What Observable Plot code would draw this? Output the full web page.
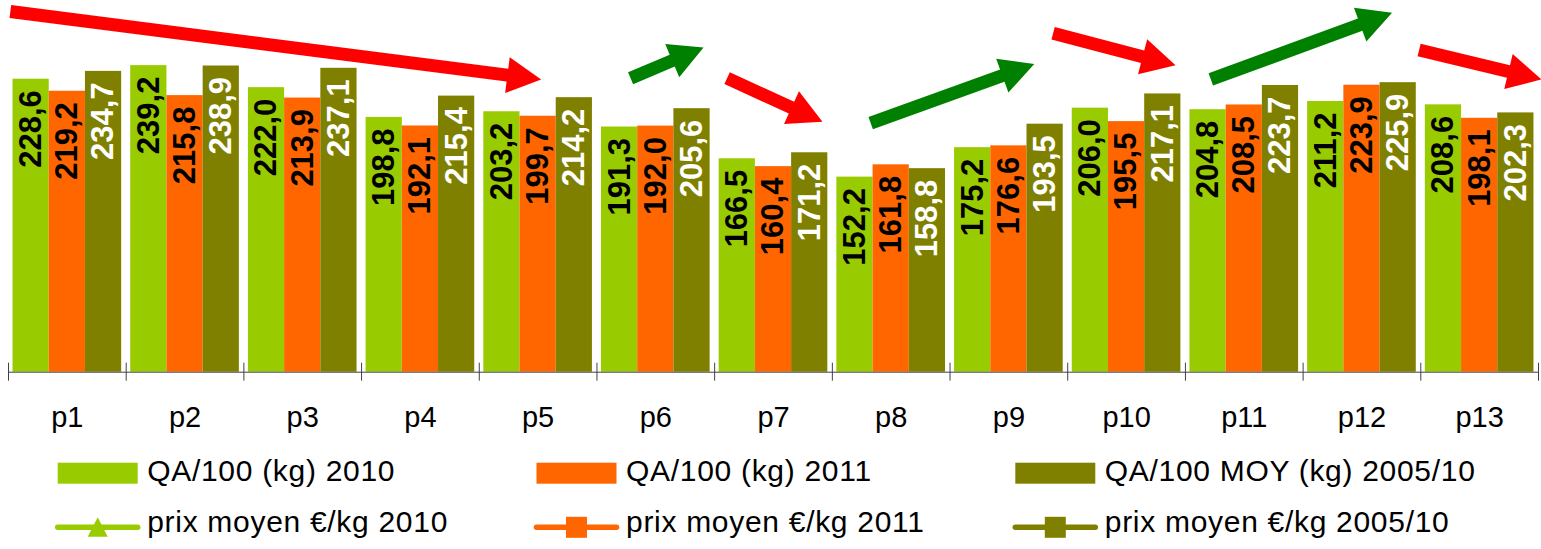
<!DOCTYPE html>
<html>
<head>
<meta charset="utf-8">
<script src="https://cdn.jsdelivr.net/npm/d3@7"></script>
<script src="https://cdn.jsdelivr.net/npm/@observablehq/plot@0.6"></script>
<style>
  html, body { margin: 0; padding: 0; background: white; }
  #chart { position: relative; width: 1541px; height: 549px; overflow: hidden; font-family: "Liberation Sans", Arial, sans-serif; }
  #chart svg { position: absolute; left: 0; }
</style>
</head>
<body>
<div id="chart"></div>
<script>
// ---- data ----
const periods = ["p1","p2","p3","p4","p5","p6","p7","p8","p9","p10","p11","p12","p13"];
const seriesNames = ["QA/100 (kg) 2010", "QA/100 (kg) 2011", "QA/100 MOY (kg) 2005/10"];
const qa2010 = [228.6, 239.2, 222.0, 198.8, 203.2, 191.3, 166.5, 152.2, 175.2, 206.0, 204.8, 211.2, 208.6];
const qa2011 = [219.2, 215.8, 213.9, 192.1, 199.7, 192.0, 160.4, 161.8, 176.6, 195.5, 208.5, 223.9, 198.1];
const qaMoy  = [234.7, 238.9, 237.1, 215.4, 214.2, 205.6, 171.2, 158.8, 193.5, 217.1, 223.7, 225.9, 202.3];
const lineNames = ["prix moyen €/kg 2010", "prix moyen €/kg 2011", "prix moyen €/kg 2005/10"];
const seriesColors = ["#99CC00", "#FF6600", "#808000"];
const labelColors = ["black", "black", "white"];
const lineMarkers = ["triangle", "square", "square"];

// trend arrows: start/end in period units (0..13) and in value units
const arrowStart      = [0.02, 5.29, 6.11, 7.33, 8.88, 10.22, 11.99];
const arrowStartLevel = [281,  229,  229,  194,  264,  228,   251];
const arrowEnd        = [4.53, 5.91, 6.92, 8.72, 9.92, 11.76, 13.03];
const arrowEndLevel   = [228,  253,  195,  240,  239,  280,   228];
const arrowColors = ["#FF0000", "#008000", "#FF0000", "#008000", "#FF0000", "#008000", "#FF0000"];

const allSeries = [qa2010, qa2011, qaMoy];
const rows = [];
periods.forEach((p, i) => allSeries.forEach((s, k) => rows.push({period: p, series: seriesNames[k], value: s[i]})));
const fmt = v => v.toFixed(1).replace(".", ",");

const W = 1541, H = 440, baseY = 371.7;
const FONT = "Liberation Sans, Arial, sans-serif";
const common = {
  width: W, height: H,
  marginLeft: 8, marginRight: 3, marginTop: 0, marginBottom: H - baseY,
  style: {background: "transparent", overflow: "visible", fontFamily: FONT},
};
const yScale = {domain: [0, 290], axis: null};

const chart = document.getElementById("chart");

// ---- bars ----
const bars = Plot.plot({
  ...common,
  fx: {domain: periods, padding: 0, axis: null, round: false, label: null},
  x: {domain: seriesNames, paddingInner: 0, paddingOuter: 0.125, axis: null, round: false, label: null},
  y: yScale,
  color: {domain: seriesNames, range: seriesColors},
  marks: [
    Plot.barY(rows, {fx: "period", x: "series", y: "value", fill: "series"}),
    ...seriesNames.map((name, k) => Plot.text(rows.filter(d => d.series === name), {
      fx: "period", x: "series", y: "value", text: d => fmt(d.value),
      rotate: -90, textAnchor: "end", dy: 11, fill: labelColors[k],
      fontWeight: "bold", fontSize: 31, fontFamily: FONT
    }))
  ]
});
bars.style.top = "0px";
chart.appendChild(bars);

// ---- overlay: axis, ticks, period labels, arrows ----
function arrowsMark(index, scales) {
  const {x, y} = scales;
  const g = d3.create("svg:g");
  arrowStart.forEach((_, i) => {
    const x1 = x(arrowStart[i]), y1 = y(arrowStartLevel[i]);
    const x2 = x(arrowEnd[i]), y2 = y(arrowEndLevel[i]);
    const dx = x2 - x1, dy = y2 - y1, len = Math.hypot(dx, dy);
    const ux = dx / len, uy = dy / len, nx = -uy, ny = ux;
    const L = 34, HW = 18, w = 6.5;
    const bx = x2 - ux * L, by = y2 - uy * L;
    const pts = [
      [x1 + nx * w, y1 + ny * w], [bx + nx * w, by + ny * w], [bx + nx * HW, by + ny * HW],
      [x2, y2], [bx - nx * HW, by - ny * HW], [bx - nx * w, by - ny * w], [x1 - nx * w, y1 - ny * w]
    ];
    g.append("polygon").attr("points", pts.map(p => p.join(",")).join(" ")).attr("fill", arrowColors[i]);
  });
  return g.node();
}

const overlay = Plot.plot({
  ...common,
  x: {domain: [0, periods.length], axis: null},
  y: yScale,
  marks: [
    Plot.ruleY([0], {x1: 0, x2: periods.length, stroke: "#404040", strokeWidth: 1}),
    Plot.ruleX(d3.range(periods.length + 1), {x: d => d, y1: -7, y2: 7, stroke: "#404040", strokeWidth: 1}),
    Plot.text(periods, {x: (d, i) => i + 0.5, y: 0, dy: 46, text: d => d, fontSize: 29, fill: "black",
      fontFamily: FONT}),
    arrowsMark
  ]
});
overlay.style.top = "0px";
chart.appendChild(overlay);

// ---- legend ----
const legend = d3.create("svg").attr("width", W).attr("height", 549 - H).style("top", H + "px")
  .style("position", "absolute").style("left", "0px");
const colStep = 478.8, col0 = 57.7;
seriesNames.forEach((name, k) => {
  const x0 = col0 + k * colStep;
  legend.append("rect").attr("x", x0).attr("y", 462.7 - H).attr("width", 80).attr("height", 21).attr("fill", seriesColors[k]);
  legend.append("text").attr("x", x0 + 89.5).attr("y", 481 - H).attr("font-size", 30).attr("letter-spacing", "0.7px")
    .attr("font-family", FONT).attr("fill", "black").text(name);
});
lineNames.forEach((name, k) => {
  const x0 = col0 + k * colStep;
  const cy = 527.3 - H, cx = x0 + 40;
  legend.append("line").attr("x1", x0).attr("x2", x0 + 80).attr("y1", cy).attr("y2", cy)
    .attr("stroke", seriesColors[k]).attr("stroke-width", 5.5).attr("stroke-linecap", "round");
  if (lineMarkers[k] === "triangle") {
    legend.append("polygon").attr("points", `${cx - 10},${cy + 9.5} ${cx + 10},${cy + 9.5} ${cx},${cy - 10}`).attr("fill", seriesColors[k]);
  } else {
    legend.append("rect").attr("x", cx - 10.5).attr("y", cy - 10.5).attr("width", 21).attr("height", 21).attr("fill", seriesColors[k]);
  }
  legend.append("text").attr("x", x0 + 89.5).attr("y", 532 - H).attr("font-size", 30).attr("letter-spacing", "0.7px")
    .attr("font-family", FONT).attr("fill", "black").text(name);
});
chart.appendChild(legend.node());
</script>
</body>
</html>
